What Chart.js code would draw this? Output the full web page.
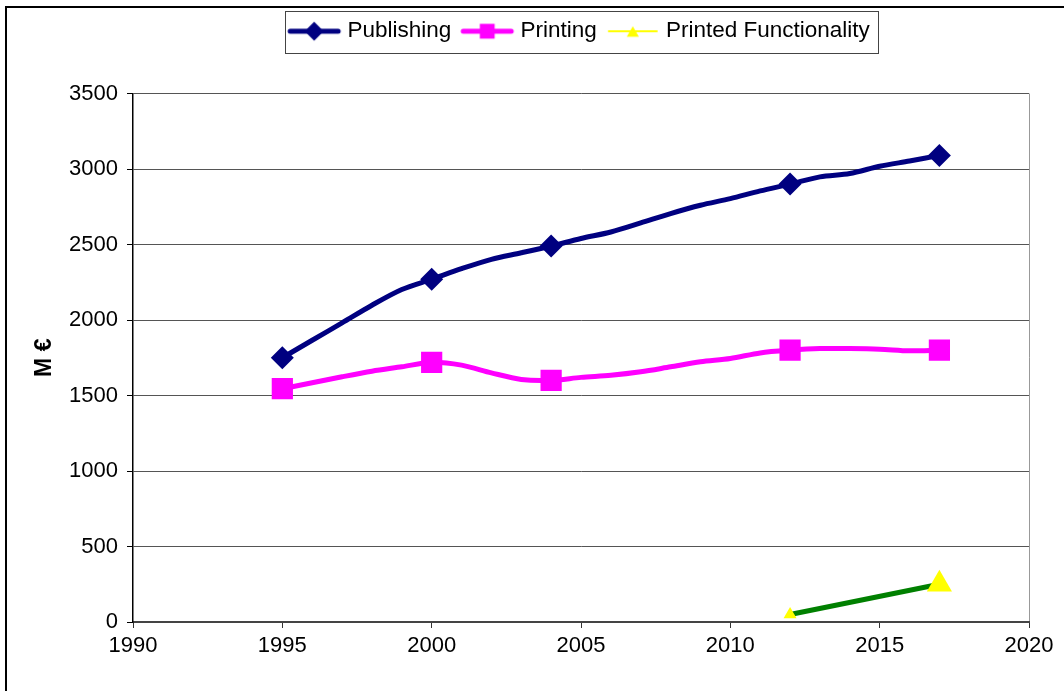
<!DOCTYPE html>
<html>
<head>
<meta charset="utf-8">
<title>Market size, M €</title>
<script src="https://cdn.jsdelivr.net/npm/chart.js@4.4.1/dist/chart.umd.min.js"></script>
<style>
  html, body { margin: 0; padding: 0; background: #fff; }
  #wrap { width: 1064px; height: 691px; position: relative; }
</style>
</head>
<body>
<div id="wrap"><canvas id="chart" width="1064" height="691"></canvas></div>
<script>
// Annual series; markers are shown only on the survey years.
const years = [1995, 1996, 1997, 1998, 1999, 2000, 2001, 2002, 2003, 2004, 2005, 2006,
               2007, 2008, 2009, 2010, 2011, 2012, 2013, 2014, 2015, 2016, 2017];
const markerYears = [1995, 2000, 2004, 2012, 2017];
const publishing = [1750, 1866, 1981, 2098, 2202, 2270, 2340, 2402, 2445, 2490, 2540, 2583,
                    2643, 2705, 2760, 2804, 2855, 2900, 2948, 2970, 3018, 3053, 3090];
const printing = [1545, 1584, 1624, 1661, 1690, 1720, 1701, 1650, 1606, 1600, 1620, 1634,
                  1657, 1690, 1723, 1745, 1782, 1800, 1811, 1811, 1807, 1796, 1800];
const pfYears = [2012, 2017];
const printedFunctionality = [50, 250];

const seriesNames = ['Publishing', 'Printing', 'Printed Functionality'];
const xTicks = [1990, 1995, 2000, 2005, 2010, 2015, 2020];
const yTicks = [0, 500, 1000, 1500, 2000, 2500, 3000, 3500];

const FONT = "'Liberation Sans', Arial, sans-serif";
const NAVY = '#000080', MAGENTA = '#FF00FF', GREEN = '#008000', YELLOW = '#FFFF00';

const toPoints = (xs, ys) => xs.map((x, i) => ({ x: x, y: ys[i] }));

// Legend swatch: a short line segment with the series marker on top.
function legendIcon(lineColor, lineWidth, markerColor, pointStyle, radius) {
  const c = document.createElement('canvas');
  c.width = 56; c.height = 30;
  const g = c.getContext('2d');
  g.strokeStyle = lineColor;
  g.lineWidth = lineWidth;
  g.lineCap = 'round';
  g.beginPath();
  g.moveTo(4, 15); g.lineTo(52, 15);
  g.stroke();
  g.fillStyle = markerColor;
  Chart.helpers.drawPoint(g, { pointStyle: pointStyle, radius: radius, rotation: 0, borderWidth: 0 }, 28, pointStyle === 'triangle' ? 17 : 15);
  return c;
}
const icons = [
  legendIcon(NAVY, 5, NAVY, 'rectRot', 9.5),
  legendIcon(MAGENTA, 5, MAGENTA, 'rect', 10.5),
  legendIcon(YELLOW, 2, YELLOW, 'triangle', 7)
];

// Outer frame and the box round the legend.
const framePlugin = {
  id: 'frame',
  beforeLayout(chart) {
    const lg = chart.legend;
    if (lg && !lg._spaced) {
      const fit = lg.fit.bind(lg);
      lg.fit = function () { fit(); this.height += 41; };
      lg._spaced = true;
    }
  },
  beforeDraw(chart) {
    const ctx = chart.ctx;
    ctx.save();
    ctx.fillStyle = '#fff';
    ctx.fillRect(0, 0, chart.width, chart.height);
    ctx.strokeStyle = '#000';
    ctx.lineWidth = 2;
    ctx.strokeRect(6, 7, chart.width + 40, chart.height + 40);
    ctx.restore();
  },
  afterDraw(chart) {
    const boxes = chart.legend && chart.legend.legendHitBoxes;
    if (!boxes || !boxes.length) return;
    const first = boxes[0], last = boxes[boxes.length - 1];
    const ctx = chart.ctx;
    ctx.save();
    ctx.strokeStyle = '#444';
    ctx.lineWidth = 1;
    const l = first.left - 7, r = last.left + last.width + 8;
    const t = first.top - 9, b = first.top + first.height + 10;
    ctx.strokeRect(Math.round(l) + 0.5, Math.round(t) + 0.5, Math.round(r - l), Math.round(b - t));
    ctx.restore();
  }
};

new Chart(document.getElementById('chart'), {
  type: 'line',
  data: {
    datasets: [
      {
        label: seriesNames[0],
        data: toPoints(years, publishing),
        borderColor: NAVY,
        backgroundColor: NAVY,
        borderWidth: 5,
        tension: 0.3,
        pointStyle: 'rectRot',
        pointRadius: ctx => markerYears.includes(ctx.raw.x) ? 11.5 : 0,
        pointHoverRadius: ctx => markerYears.includes(ctx.raw.x) ? 11.5 : 0,
        pointBackgroundColor: NAVY,
        pointBorderWidth: 0
      },
      {
        label: seriesNames[1],
        data: toPoints(years, printing),
        borderColor: MAGENTA,
        backgroundColor: MAGENTA,
        borderWidth: 5,
        tension: 0.3,
        pointStyle: 'rect',
        pointRadius: ctx => markerYears.includes(ctx.raw.x) ? 15 : 0,
        pointHoverRadius: ctx => markerYears.includes(ctx.raw.x) ? 15 : 0,
        pointBackgroundColor: MAGENTA,
        pointBorderWidth: 0
      },
      {
        label: seriesNames[2],
        data: toPoints(pfYears, printedFunctionality),
        borderColor: GREEN,
        backgroundColor: YELLOW,
        borderWidth: 5,
        tension: 0,
        pointStyle: 'triangle',
        pointRadius: ctx => ctx.dataIndex === 0 ? 7.5 : 14.5,
        pointHoverRadius: ctx => ctx.dataIndex === 0 ? 7.5 : 14.5,
        pointBackgroundColor: YELLOW,
        pointBorderWidth: 0
      }
    ]
  },
  options: {
    responsive: false,
    animation: false,
    events: [],
    layout: { padding: { left: 8, right: 35, top: 6, bottom: 0 } },
    plugins: {
      tooltip: { enabled: false },
      legend: {
        position: 'top',
        fullSize: false,
        labels: {
          usePointStyle: true,
          pointStyleWidth: 44,
          padding: 14,
          color: '#000',
          font: { family: FONT, size: 22.5 },
          generateLabels: chart => chart.data.datasets.map((ds, i) => ({
            text: ds.label,
            pointStyle: icons[i],
            fillStyle: 'transparent',
            strokeStyle: 'transparent',
            lineWidth: 0,
            fontColor: '#000',
            hidden: false,
            datasetIndex: i
          }))
        }
      }
    },
    scales: {
      x: {
        type: 'linear',
        min: xTicks[0],
        max: xTicks[xTicks.length - 1],
        afterBuildTicks: scale => { scale.ticks = xTicks.map(v => ({ value: v })); },
        afterFit: scale => { scale.height = 69; },
        ticks: {
          autoSkip: false,
          maxRotation: 0,
          padding: 5,
          color: '#000',
          font: { family: FONT, size: 22 },
          callback: v => String(v)
        },
        grid: {
          color: ctx => (ctx.tick && ctx.tick.value === xTicks[xTicks.length - 1]) ? '#999' : 'rgba(0,0,0,0)',
          tickColor: '#333',
          tickLength: 6,
          lineWidth: 1
        },
        border: { display: true, color: '#444', width: 2 }
      },
      y: {
        min: yTicks[0],
        max: yTicks[yTicks.length - 1],
        afterBuildTicks: scale => { scale.ticks = yTicks.map(v => ({ value: v })); },
        afterFit: scale => { scale.width = 125; },
        ticks: {
          padding: 9,
          color: '#000',
          font: { family: FONT, size: 22 },
          callback: v => String(v)
        },
        grid: {
          color: '#555',
          tickColor: '#000',
          tickLength: 6,
          lineWidth: 1
        },
        border: { display: true, color: '#000', width: 1.5 },
        title: {
          display: true,
          text: 'M €',
          color: '#000',
          font: { family: FONT, size: 23, weight: 'bold' },
          padding: { top: 23, bottom: 0 }
        }
      }
    }
  },
  plugins: [framePlugin]
});
</script>
</body>
</html>
